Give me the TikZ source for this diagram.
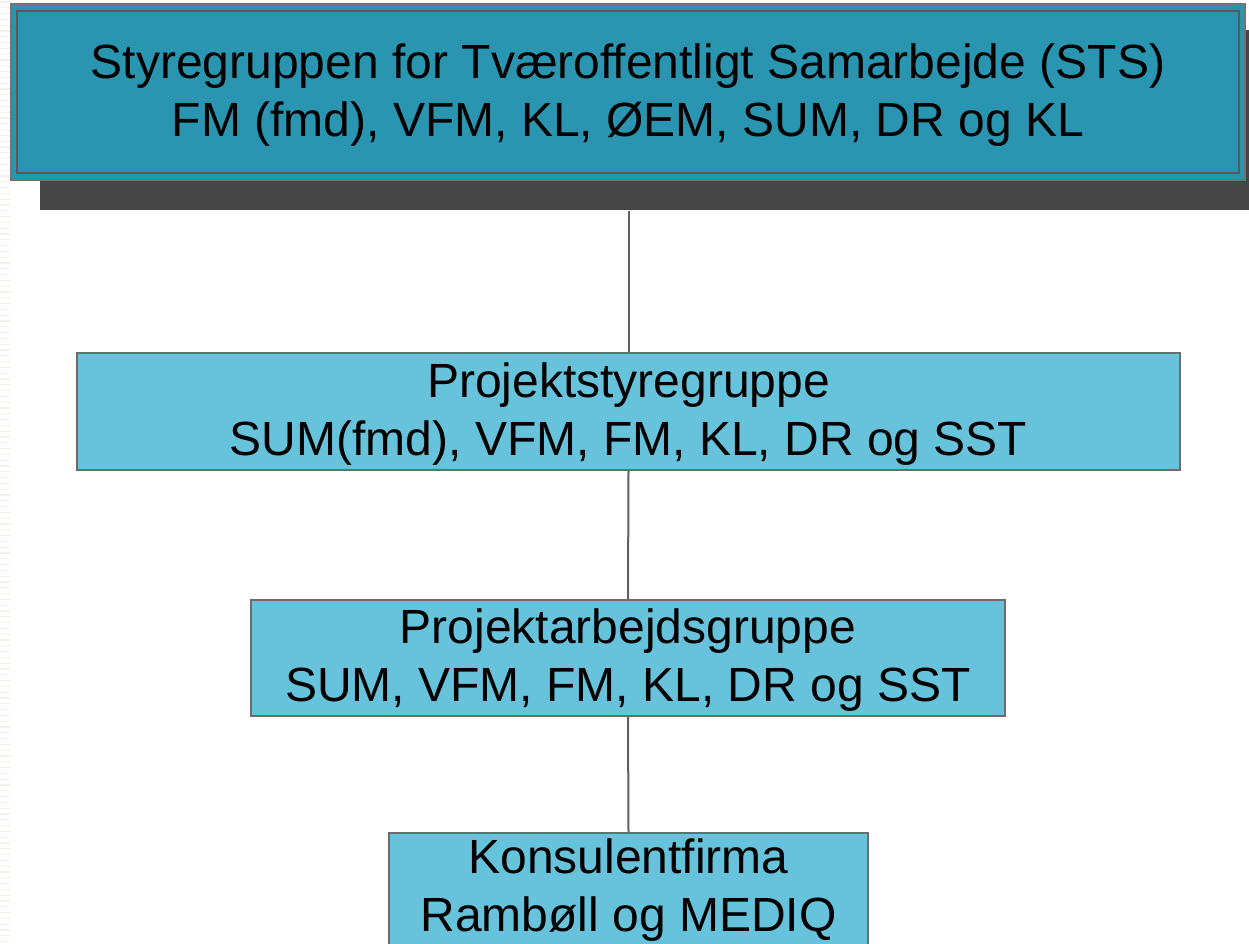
\documentclass[tikz,border=0pt]{standalone}
\usepackage{fontspec}
\setmainfont{Liberation Sans}
\begin{document}
\begin{tikzpicture}[x=0.75pt,y=-0.75pt,
  txt/.style={font=\fontsize{36}{43.5}\selectfont, align=center, text=black, inner sep=0pt},
  lightbox/.style={draw=gray!85!black, line width=1.2pt, fill=boxlight, inner sep=0pt},
  conn/.style={draw=gray!75!black, line width=1.5pt}]
\definecolor{boxdark}{HTML}{2A95B0}
\definecolor{boxlight}{HTML}{66C3DB}
\definecolor{stripe}{HTML}{F3F2EA}
\definecolor{shadowgray}{HTML}{454545}
\useasboundingbox (0,0) rectangle (1249,943);
\fill[white] (0,0) rectangle (1249,943);
% faint stripes at left edge
\foreach \yy in {2,7.8,...,943} {
  \draw[stripe, line width=1pt] (0,\yy) -- (10,\yy);
}
% shadow of top box
\fill[shadowgray] (40,30) rectangle (1252,210);
% top box
\node[draw=gray!90!black, line width=1.2pt, fill=boxdark, minimum width=925.5pt, minimum height=132pt, inner sep=0pt] (sts) at (628,92) {};
\draw[draw=black!65, line width=1.6pt] (17,11) rectangle (1239,173);
\node[txt] (ststext) at (628,95) {Styregruppen for Tværoffentligt Samarbejde (STS)\\FM (fmd), VFM, KL, ØEM, SUM, DR og KL};
% second box
\node[lightbox, minimum width=827.25pt, minimum height=87.75pt] (psg) at (628.5,411.5) {};
\node[txt] (psgtext) at (628.5,414.5) {Projektstyregruppe\\SUM(fmd), VFM, FM, KL, DR og SST};
% third box
\node[lightbox, minimum width=565.5pt, minimum height=87pt] (pag) at (628,658) {};
\node[txt] (pagtext) at (628,660.5) {Projektarbejdsgruppe\\SUM, VFM, FM, KL, DR og SST};
% fourth box
\node[lightbox, minimum width=359.25pt, minimum height=105pt, anchor=north] (kf) at (628.5,832) {};
\node[txt] (kftext) at (628.5,890) {Konsulentfirma\\Rambøll og MEDIQ};
% connectors
\draw[conn] (sts.south -| psg.north) ++(0,30) -- (psg.north);
\draw[conn] (psg.south) -- (pag.north);
\draw[conn] (pag.south) -- (kf.north);
\end{tikzpicture}
\end{document}
